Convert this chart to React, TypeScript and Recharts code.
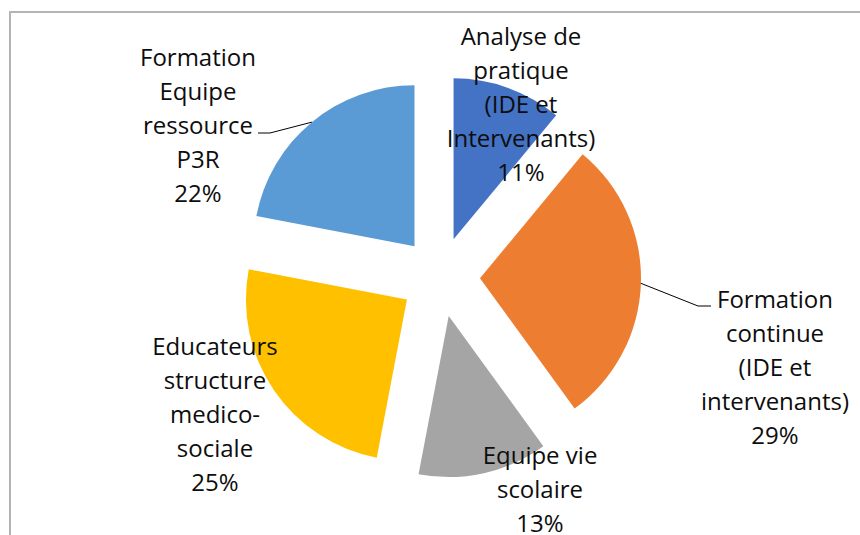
import React from 'react';
import { PieChart, Pie, Cell, Sector } from 'recharts';

const categories = [
  'Analyse de\npratique\n(IDE et\nIntervenants)',
  'Formation\ncontinue\n(IDE et\nintervenants)',
  'Equipe vie\nscolaire',
  'Educateurs\nstructure\nmedico-\nsociale',
  'Formation\nEquipe\nressource\nP3R',
];
const values = [11, 29, 13, 25, 22];

const COLORS = ['#4472C4', '#ED7D31', '#A5A5A5', '#FFC000', '#5B9BD5'];

const data = categories.map((name, i) => ({ name, value: values[i] }));

const CX = 440;
const CY = 277;
const R = 161;
const EXPLODE = 40;
const LINE_H = 34;
const RADIAN = Math.PI / 180;

// where each label block is centred, relative to the pie centre
const labelPos = [
  { dx: 81, dy: -174 },
  { dx: 335, dy: 89 },
  { dx: 100, dy: 211 },
  { dx: -225, dy: 136 },
  { dx: -242, dy: -153 },
];
// leader lines: elbow and end, relative to the pie centre
const leaders = {
  1: { elbow: [258, 29], end: [271, 29] },
  4: { elbow: [-170, -144], end: [-182, -144] },
};

const ExplodedSector = (props) => {
  const { cx, cy, midAngle } = props;
  const ox = EXPLODE * Math.cos(-midAngle * RADIAN);
  const oy = EXPLODE * Math.sin(-midAngle * RADIAN);
  return (
    <Sector
      cx={cx + ox}
      cy={cy + oy}
      innerRadius={0}
      outerRadius={props.outerRadius}
      startAngle={props.startAngle}
      endAngle={props.endAngle}
      fill={props.fill}
      stroke="none"
    />
  );
};

const renderLabel = ({ cx, cy, midAngle, outerRadius, percent, index }) => {
  const lines = categories[index].split('\n').concat(`${Math.round(percent * 100)}%`);
  const pos = labelPos[index];
  const x = cx + pos.dx;
  const y0 = cy + pos.dy - ((lines.length - 1) / 2) * LINE_H;
  const leader = leaders[index];
  let line = null;
  if (leader) {
    const r = outerRadius + EXPLODE;
    const sx = cx + r * Math.cos(-midAngle * RADIAN);
    const sy = cy + r * Math.sin(-midAngle * RADIAN);
    line = (
      <polyline
        points={`${sx},${sy} ${cx + leader.elbow[0]},${cy + leader.elbow[1]} ${cx + leader.end[0]},${cy + leader.end[1]}`}
        fill="none"
        stroke="#000"
        strokeWidth={1}
      />
    );
  }
  return (
    <g key={`lbl-${index}`}>
      {line}
      <text
        x={x}
        y={y0}
        textAnchor="middle"
        fill="#0d0d0d"
        fontFamily="'Open Sans', sans-serif"
        fontSize={24}
      >
        {lines.map((l, i) => (
          <tspan key={i} x={x} y={y0 + i * LINE_H} dominantBaseline="central">
            {l}
          </tspan>
        ))}
      </text>
    </g>
  );
};

const App = () => {
  return (
    <div
      style={{
        position: 'absolute',
        left: 0,
        top: 0,
        width: 860,
        height: 535,
        overflow: 'hidden',
        background: '#fff',
      }}
    >
      <div
        style={{
          position: 'absolute',
          left: 9,
          top: 11,
          width: 900,
          height: 600,
          borderLeft: '2px solid #b4b4b4',
          borderTop: '2px solid #b4b4b4',
        }}
      />
      <div style={{ position: 'absolute', left: 0, top: 0 }}>
        <PieChart width={860} height={535} margin={{ top: 0, right: 0, bottom: 0, left: 0 }}>
          <Pie
            data={data}
            dataKey="value"
            nameKey="name"
            cx={CX}
            cy={CY}
            outerRadius={R}
            startAngle={90}
            endAngle={-270}
            stroke="none"
            shape={ExplodedSector}
            label={renderLabel}
            labelLine={false}
            isAnimationActive={false}
          >
            {data.map((entry, index) => (
              <Cell key={`cell-${index}`} fill={COLORS[index]} />
            ))}
          </Pie>
        </PieChart>
      </div>
    </div>
  );
};

export default App;
